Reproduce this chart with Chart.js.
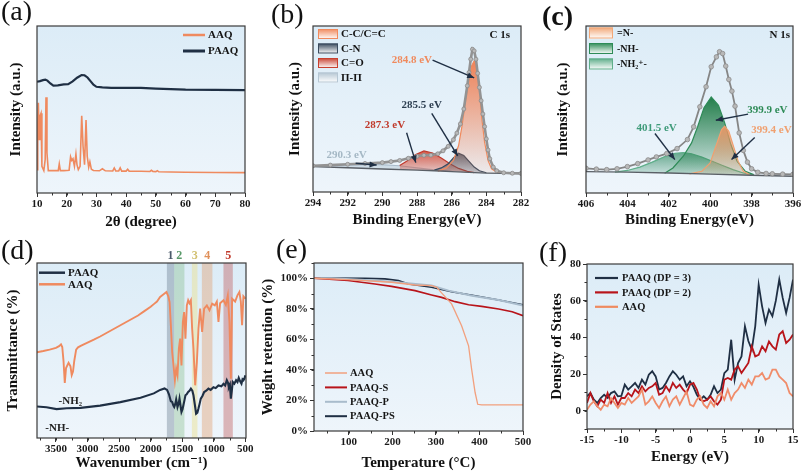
<!DOCTYPE html>
<html>
<head>
<meta charset="utf-8">
<title>AAQ / PAAQ characterisation</title>
<script src="https://cdn.jsdelivr.net/npm/chart.js@4.4.1/dist/chart.umd.min.js"></script>
<style>
  html, body { margin: 0; padding: 0; background: #fff; }
  #fig { position: relative; width: 803px; height: 472px; overflow: hidden; }
  #fig canvas { position: absolute; }
  .tag { position: absolute; font-family: 'Liberation Serif', serif; font-size: 28px; line-height: 28px; color: #111; }
</style>
</head>
<body>
<div id="fig">
  <canvas id="pa" width="265" height="236" style="left:0;top:0"></canvas>
  <canvas id="pb" width="270" height="236" style="left:265px;top:0"></canvas>
  <canvas id="pc" width="268" height="236" style="left:535px;top:0"></canvas>
  <canvas id="pd" width="265" height="236" style="left:0;top:236px"></canvas>
  <canvas id="pe" width="279" height="236" style="left:256px;top:236px"></canvas>
  <canvas id="pf" width="268" height="236" style="left:535px;top:236px"></canvas>
  <div class="tag" style="left:1px;top:-3px">(a)</div>
  <div class="tag" style="left:271px;top:0px">(b)</div>
  <div class="tag" style="left:542px;top:2px;font-weight:bold">(c)</div>
  <div class="tag" style="left:1px;top:236px">(d)</div>
  <div class="tag" style="left:276px;top:235px">(e)</div>
  <div class="tag" style="left:539px;top:238px">(f)</div>
</div>
<script>
// ================= DATA =================
// (a) XRD, 2theta (degree) vs intensity (a.u.)
const aTicks = [10, 20, 30, 40, 50, 60, 70, 80];
const aThetaPAAQ = [10, 11, 12, 12.8, 13.5, 14.5, 15.5, 17, 19, 20.5, 22, 23.5, 25, 26, 27, 28, 29, 30, 32, 35, 40, 45, 50, 55, 60, 70, 80];
const aPAAQ = [66.6, 67.0, 67.6, 67.9, 67.3, 65.6, 64.3, 64.5, 65.0, 65.2, 66.8, 69.0, 70.6, 70.5, 69.2, 67.0, 64.8, 63.6, 63.2, 63.0, 62.9, 62.9, 62.5, 62.2, 61.9, 61.7, 61.6];
const aThetaAAQ = [10, 10.25, 10.45, 10.75, 11.0, 11.35, 11.65, 12.3, 12.75, 13.03, 13.35, 13.8, 15, 17.15, 17.5, 17.85, 19, 20.8, 21.3, 21.7, 22.1, 22.6, 23.1, 23.45, 23.9, 24.5, 25.05, 25.5, 26.0, 26.5, 26.9, 27.4, 27.8, 28.3, 29, 31, 32, 33, 35.5, 36, 36.5, 37.5, 38, 38.5, 40, 40.5, 41, 45, 48, 48.5, 49, 50, 50.5, 51, 55, 60, 70, 80];
const aAAQ = [14, 40, 54, 32, 46, 47.7, 16, 13.4, 20, 57.3, 24, 13.4, 13.4, 13.4, 17.4, 13.4, 13.4, 13.6, 21.7, 19.5, 20.5, 16, 23.2, 17, 14, 16, 46.3, 28, 17, 43.7, 22, 15.5, 18.7, 14.2, 13.5, 13.3, 14.5, 13.3, 13.2, 15, 13.2, 13.2, 15, 13.1, 13.1, 14.2, 13.1, 13.0, 12.9, 13.6, 12.9, 12.8, 13.4, 12.7, 12.6, 12.4, 12.3, 12.2];

// (b) C 1s XPS, binding energy (eV)
const bTicks = [282, 284, 286, 288, 290, 292, 294];
const bEnvE = [294, 293, 292, 291, 290, 289.5, 289, 288.5, 288, 287.6, 287.2, 286.8, 286.5, 286.2, 285.9, 285.7, 285.5, 285.3, 285.1, 285.0, 284.9, 284.8, 284.7, 284.6, 284.5, 284.4, 284.3, 284.2, 284.1, 284.0, 283.9, 283.8, 283.6, 283.4, 283.0, 282.5, 282];
const bEnv = [15.8, 16.2, 16.7, 17.2, 17.7, 18.3, 19.0, 20.3, 21.5, 22.1, 22.2, 23.0, 24.8, 27.5, 31.5, 35.5, 41, 50, 64, 72, 80, 86, 85, 80, 71.5, 63, 55, 47, 39.4, 32, 25.3, 20, 15, 12.8, 11.6, 11.3, 11.2];
const bBaseE = [294, 292, 290, 288, 287, 286, 285, 284, 283, 282];
const bBase = [15.3, 14.6, 13.9, 13.2, 12.8, 12.3, 11.8, 11.4, 11.2, 11.1];
const bPiE = [294, 292, 290.3, 289, 288, 287, 286];
const bPi = [15.5, 16.2, 16.6, 15.8, 14.5, 13.3, 12.4];
const bCOE = [289.0, 288.6, 288.1, 287.6, 287.1, 286.6, 286.1, 285.6, 285.1, 284.7];
const bCO = [16.0, 18.5, 22.5, 24.7, 23.5, 20.5, 17, 14.2, 12.4, 11.7];
const bCNE = [287.0, 286.6, 286.2, 285.9, 285.6, 285.3, 285.0, 284.7, 284.4, 284.0];
const bCN = [13.2, 14.5, 17, 20.5, 23.3, 22, 18.5, 15, 12.8, 11.6];
const bCCE = [286.8, 286.3, 285.9, 285.6, 285.4, 285.2, 285.0, 284.85, 284.7, 284.55, 284.4, 284.27, 284.1, 283.9, 283.7, 283.4, 283.0];
const bCC = [12.5, 14.5, 19, 28, 40, 55, 68, 76, 79, 76, 62, 45, 30, 19, 14, 12, 11.3];

// (c) N 1s XPS
const cTicks = [396, 398, 400, 402, 404, 406];
const cEnvE = [406, 405.5, 405, 404.5, 404, 403.5, 403, 402.6, 402.1, 401.6, 401.1, 400.8, 400.5, 400.2, 399.95, 399.7, 399.55, 399.4, 399.25, 399.1, 398.95, 398.8, 398.6, 398.4, 398.2, 398, 397.7, 397.3, 397, 396.5, 396];
const cEnv = [14.8, 14.3, 14.0, 14.5, 15.8, 17.6, 19.8, 21.6, 23.6, 26.6, 32, 39.6, 51.6, 63.6, 75.6, 81.5, 84.6, 83.5, 76, 68, 61, 52, 36, 25.5, 18.5, 14.5, 12.4, 11.7, 11.5, 11.3, 11.2];
const cBaseE = [406, 404, 402, 400, 398, 396];
const cBase = [12.8, 12.5, 12, 11.3, 10.6, 10];
const cNH2E = [404.6, 404, 403.4, 402.8, 402.2, 401.7, 401.3, 400.9, 400.4, 399.9, 399.4, 398.9, 398.4, 397.9];
const cNH2 = [12.5, 13.5, 15.5, 18.5, 21.8, 23.7, 24.2, 23.5, 21.5, 19, 16.5, 14, 12, 10.8];
const cNHE = [402.2, 401.8, 401.3, 400.9, 400.6, 400.3, 399.95, 399.6, 399.3, 399.0, 398.7, 398.3, 397.9];
const cNH = [11.8, 15, 22, 30, 40, 51, 57.5, 52.5, 42, 29, 19, 13, 11];
const cNE = [401.0, 400.4, 400.0, 399.7, 399.45, 399.3, 399.1, 398.9, 398.65, 398.4, 398.1];
const cN = [11.5, 13, 18, 29, 38, 40, 37, 29, 19, 13, 11];

// (d) FTIR, wavenumber (cm-1)
const dTicks = [500, 1000, 1500, 2000, 2500, 3000, 3500];
const dWnPAAQ = [3800, 3650, 3490, 3330, 3110, 2800, 2480, 2160, 1950, 1850, 1780, 1740, 1710, 1680, 1660, 1640, 1627, 1610, 1596, 1575, 1555, 1543, 1525, 1512, 1495, 1480, 1465, 1449, 1430, 1406, 1385, 1363, 1340, 1322, 1300, 1280, 1260, 1243, 1225, 1206, 1180, 1153, 1120, 1085, 1050, 1005, 970, 926, 880, 847, 820, 794, 775, 762, 745, 730, 715, 700, 675, 647, 625, 605, 585, 562, 545, 531, 515, 500];
const dPAAQ = [18, 17.6, 16.5, 17, 17.2, 18.5, 20.5, 23, 25.5, 27.5, 28.3, 27.5, 25, 21, 20.6, 18.5, 17.7, 19.5, 22, 17.7, 20, 22.5, 18, 14.9, 16.5, 19, 21.5, 24.4, 25, 26.3, 27, 28.2, 27, 24.4, 19, 13.9, 14.5, 16.8, 19.5, 22.5, 24, 26.3, 27, 28.2, 27.5, 29, 28.5, 30, 29.5, 31, 30, 33, 31.5, 29, 30.5, 22.5, 27, 32, 31, 33, 32, 34.3, 32.5, 31, 33.5, 33, 34, 35.8];
const dWnAAQ = [3800, 3700, 3600, 3500, 3450, 3420, 3400, 3380, 3360, 3340, 3300, 3270, 3250, 3230, 3210, 3180, 3150, 3100, 3000, 2900, 2800, 2700, 2600, 2500, 2400, 2300, 2200, 2100, 2000, 1950, 1900, 1850, 1800, 1750, 1720, 1700, 1680, 1659, 1638, 1616, 1596, 1575, 1553, 1533, 1512, 1490, 1470, 1449, 1427, 1406, 1386, 1363, 1343, 1322, 1295, 1268, 1243, 1216, 1185, 1153, 1110, 1069, 1026, 984, 952, 926, 900, 847, 809, 778, 752, 730, 710, 662, 626, 595, 572, 552, 531, 500];
const dAAQ = [49, 49.7, 50.5, 51.5, 52.5, 53.5, 52, 44, 31.5, 40, 43, 41, 36, 38, 44, 50.5, 51.8, 52.8, 54.5, 56.2, 58, 60, 62, 64, 66, 68, 70, 72.5, 75, 76.5, 78, 80.6, 82, 83.4, 81, 77.7, 64.4, 49.1, 41.5, 33, 39.6, 35.8, 51.1, 56.8, 41.5, 66.3, 72, 56.8, 75.8, 78.7, 77, 78.7, 62.5, 51.1, 30.1, 43.4, 62.5, 73.9, 60.6, 73.9, 75.8, 73, 76.8, 75.8, 78, 66.3, 77, 78.7, 76, 81.5, 66.3, 33.9, 79.6, 78, 81.5, 83.4, 78, 64.4, 81, 79.6];
const dBands = [[1743, 1627], [1627, 1465], [1347, 1259], [1189, 1022], [847, 699]];
const dBandLabels = ['1', '2', '3', '4', '5'];

// (e) TGA, temperature (°C) vs weight retention (%)
const eTicksX = [100, 200, 300, 400, 500];
const eTicksY = [0, 20, 40, 60, 80, 100];
const eTAAQ = [20, 98, 198, 252, 290, 302, 313, 336, 359, 375, 382, 390, 396, 405, 500];
const eAAQ = [100, 99.1, 97.4, 95.6, 95.2, 94.1, 90.4, 83.2, 68.9, 55.8, 40.5, 25.2, 17.5, 17.1, 17.1];
const eTS = [20, 98, 160, 198, 252, 290, 313, 344, 375, 405, 444, 475, 500];
const eS = [100, 98.5, 96.3, 94.7, 91.9, 89.1, 87.5, 84.7, 82.7, 81.6, 79.9, 78.1, 75.5];
const eTP = [20, 60, 137, 198, 229, 290, 329, 383, 444, 500];
const eP = [100, 100, 98.9, 97.8, 96.9, 95.2, 91.9, 88.6, 85.8, 82.1];
const eTPS = [20, 137, 183, 214, 237, 290, 336, 390, 444, 500];
const ePS = [100.2, 100, 99.6, 98.5, 96.3, 94.1, 91.2, 88.6, 85.8, 82.7];

// (f) DOS, energy (eV)
const fTicksX = [-15, -10, -5, 0, 5, 10, 15];
const fTicksY = [0, 20, 40, 60, 80];
const fEnergy = [-15, -14.5, -14, -13.5, -13, -12.5, -12, -11.5, -11, -10.5, -10, -9.5, -9, -8.5, -8, -7.5, -7, -6.5, -6, -5.5, -5, -4.5, -4, -3.5, -3, -2.5, -2, -1.5, -1, -0.5, 0, 0.5, 1, 1.5, 2, 2.5, 3, 3.5, 4, 4.5, 5, 5.5, 6, 6.5, 7, 7.5, 8, 8.5, 9, 9.5, 10, 10.5, 11, 11.5, 12, 12.5, 13, 13.5, 14, 14.5, 15];
const fDP3 = [7.8, 9.6, 6, 4.2, 6.9, 8.7, 7, 9.6, 10.5, 7.8, 8, 14.2, 11.5, 13.3, 15.1, 12.4, 16.9, 14.2, 19.6, 21.5, 18.7, 11.5, 12.4, 15.1, 18.7, 21.5, 19.6, 16.9, 18.7, 13.3, 16, 13, 8.7, 6, 7.8, 6, 8.7, 13.3, 9.6, 11.5, 20.5, 22.4, 38.7, 16.9, 26, 29.6, 46, 38, 33.3, 46, 68.7, 56.9, 47.8, 55.1, 51.5, 60, 71.5, 61.5, 53.3, 61.5, 71.5];
const fDP2 = [4.2, 9.6, 5.1, 2.4, 6, 4.2, 9.6, 4.2, 7.8, 3.3, 6.9, 6.9, 9.6, 7.8, 11.5, 9.6, 13.3, 10.5, 12.4, 13.3, 15.1, 8.7, 9.6, 13.3, 10.5, 15.1, 12.4, 14.2, 11.5, 9.6, 14.2, 15.1, 11.5, 6, 5.1, 6, 7.8, 5.1, 3.3, 6, 16.9, 17.8, 16.9, 22.4, 24.2, 20.5, 23.3, 26, 35.1, 29.6, 30.5, 35.1, 32.4, 37.8, 35.1, 33.3, 41.5, 43.3, 36.9, 38.7, 41.5];
const fAAQ = [0.5, 3.3, 5.1, 2.4, 0.5, 3.3, 2.4, 6.9, 4.2, 1.5, 4.2, 3.3, 6.9, 4.2, 6, 7.8, 11.5, 3.3, 5.1, 7.8, 4.2, 1.5, 5.1, 7.8, 2.4, 6, 7.8, 3.3, 6.9, 10.5, 3.3, 2.4, 6, 7.8, 3.3, 1.5, 5.1, 2.4, 7.8, 9.6, 6, 11.5, 6, 9.6, 11.5, 15.1, 12.4, 16.9, 14.2, 18.7, 18.7, 20.5, 16.9, 17.8, 22.4, 22.4, 18.7, 16.9, 15.1, 9.6, 7.8];

// ================= HELPERS =================
const serif = "'Liberation Serif', 'DejaVu Serif', serif";
const tickFont = { family: serif, size: 11, weight: 'bold' };
const titleFont = { family: serif, size: 15, weight: 'bold' };
const navy = '#1f2f44', orange = '#ef8a5f', red = '#b8141a', grayBlue = '#a9bccc';

function pts(xs, ys) {
  const n = Math.min(xs.length, ys.length);
  const out = [];
  for (let i = 0; i < n; i++) out.push({ x: xs[i], y: ys[i] });
  return out;
}

function line(data, color, width, extra) {
  return Object.assign({ data, borderColor: color, borderWidth: width, pointRadius: 0, fill: false, tension: 0 }, extra || {});
}

// gradient from the top of a peak down to the baseline
function peakFill(rgb, a0) {
  return (ctx) => {
    const ch = ctx.chart, area = ch.chartArea;
    if (!area || !ch.scales.y) return 'rgba(0,0,0,0)';
    const ds = ch.data.datasets[ctx.datasetIndex];
    const top = ch.scales.y.getPixelForValue(Math.max(...ds.data.map(p => p.y)));
    const g = ch.ctx.createLinearGradient(0, top, 0, area.bottom - 12);
    g.addColorStop(0, `rgba(${rgb},${a0})`);
    g.addColorStop(1, `rgba(${rgb},0.03)`);
    return g;
  };
}

function xAxis(o) {
  return {
    type: 'linear', position: 'bottom', min: o.min, max: o.max, reverse: !!o.reverse,
    afterBuildTicks: s => { s.ticks = o.ticks.map(v => ({ value: v })); },
    afterFit: s => { s.height = o.h; },
    grid: { display: true, drawOnChartArea: false, drawTicks: true, tickLength: 4, color: '#333', lineWidth: 1 },
    border: { display: false },
    ticks: { color: '#1a1a1a', font: tickFont, padding: 1, maxRotation: 0, autoSkip: false, callback: o.fmt || (v => v) },
    title: { display: true, text: o.title, color: '#111', font: titleFont, padding: { top: 0, bottom: o.tb } }
  };
}

function yAxis(o) {
  const withTicks = !!o.ticks;
  return {
    type: 'linear', position: 'left', min: o.min, max: o.max,
    afterBuildTicks: s => { if (withTicks) s.ticks = o.ticks.map(v => ({ value: v })); },
    afterFit: s => { s.width = o.w; },
    grid: { display: withTicks, drawOnChartArea: false, drawTicks: true, tickLength: 4, color: '#333', lineWidth: 1 },
    border: { display: false },
    ticks: { display: withTicks, color: '#1a1a1a', font: tickFont, padding: 2, autoSkip: false, callback: o.fmt || (v => v) },
    title: { display: true, text: o.title, color: '#111', font: titleFont, padding: { top: o.tp, bottom: 0 } }
  };
}

function arrow(c, x1, y1, x2, y2) {
  c.beginPath(); c.moveTo(x1, y1); c.lineTo(x2, y2); c.stroke();
  const ang = Math.atan2(y2 - y1, x2 - x1), L = 7, W = 3;
  c.beginPath();
  c.moveTo(x2, y2);
  c.lineTo(x2 - L * Math.cos(ang) + W * Math.sin(ang), y2 - L * Math.sin(ang) - W * Math.cos(ang));
  c.lineTo(x2 - L * Math.cos(ang) - W * Math.sin(ang), y2 - L * Math.sin(ang) + W * Math.cos(ang));
  c.closePath(); c.fill();
}

// per-panel decorations (legends, labels, arrows, bands)
const extras = {};

const deco = {
  id: 'deco',
  beforeDraw(chart) {
    const a = chart.chartArea, c = chart.ctx;
    const g = c.createLinearGradient(0, a.top, 0, a.bottom);
    g.addColorStop(0, '#dcecf7');
    g.addColorStop(1, '#eef5fb');
    c.save(); c.fillStyle = g; c.fillRect(a.left, a.top, a.width, a.height); c.restore();
  },
  beforeDatasetsDraw(chart) {
    const ex = extras[chart.canvas.id];
    if (!ex || !ex.bands) return;
    const a = chart.chartArea, c = chart.ctx, xs = chart.scales.x;
    c.save();
    ex.bands.forEach((b, i) => {
      const x1 = xs.getPixelForValue(b[0]), x2 = xs.getPixelForValue(b[1]);
      c.fillStyle = ex.bandColors[i];
      c.fillRect(Math.min(x1, x2), a.top, Math.abs(x2 - x1), a.height);
      c.fillStyle = ex.bandText[i];
      c.font = `bold 12px ${serif}`;
      c.textAlign = 'center'; c.textBaseline = 'bottom';
      c.fillText(ex.bandLabels[i], (x1 + x2) / 2, a.top - 1);
    });
    c.restore();
  },
  afterDatasetsDraw(chart) {
    const a = chart.chartArea, c = chart.ctx;
    const ex = extras[chart.canvas.id] || {};
    c.save();
    // frame
    c.strokeStyle = '#3a3a3a'; c.lineWidth = 1.2;
    c.strokeRect(a.left, a.top, a.width, a.height);
    // minor ticks
    c.lineWidth = 1; c.strokeStyle = '#333';
    if (ex.minorX) {
      const s = chart.scales.x, lo = Math.min(s.min, s.max), hi = Math.max(s.min, s.max);
      for (let v = Math.ceil(lo / ex.minorX) * ex.minorX; v <= hi; v += ex.minorX) {
        const px = Math.round(s.getPixelForValue(v)) + 0.5;
        c.beginPath(); c.moveTo(px, a.bottom); c.lineTo(px, a.bottom + 2.5); c.stroke();
      }
    }
    if (ex.minorY) {
      const s = chart.scales.y;
      for (let v = Math.ceil(s.min / ex.minorY) * ex.minorY; v <= s.max; v += ex.minorY) {
        const py = Math.round(s.getPixelForValue(v)) + 0.5;
        c.beginPath(); c.moveTo(a.left, py); c.lineTo(a.left - 2.5, py); c.stroke();
      }
    }
    // legend
    const L = ex.legend;
    if (L) {
      c.font = `bold ${L.size}px ${serif}`;
      c.textBaseline = 'middle'; c.textAlign = 'left';
      L.items.forEach((it, i) => {
        const y = a.top + L.y + i * L.dy, x0 = a.left + L.x;
        if (L.box) {
          const g = c.createLinearGradient(0, y - L.h / 2, 0, y + L.h / 2);
          g.addColorStop(0, it.c); g.addColorStop(1, '#ffffff');
          c.fillStyle = g; c.fillRect(x0, y - L.h / 2, L.w, L.h);
          c.strokeStyle = it.c; c.lineWidth = 1;
          c.strokeRect(x0 + 0.5, y - L.h / 2 + 0.5, L.w - 1, L.h - 1);
        } else {
          c.strokeStyle = it.c; c.lineWidth = it.lw || L.lw;
          c.beginPath(); c.moveTo(x0, y); c.lineTo(x0 + L.w, y); c.stroke();
        }
        c.fillStyle = '#151515';
        c.fillText(it.t, a.left + L.tx, y + 0.5);
      });
    }
    // arrows (data coordinates)
    (ex.arrows || []).forEach(r => {
      c.strokeStyle = r.c || navy; c.fillStyle = r.c || navy; c.lineWidth = 1.4;
      arrow(c, chart.scales.x.getPixelForValue(r.x1), chart.scales.y.getPixelForValue(r.y1),
        chart.scales.x.getPixelForValue(r.x2), chart.scales.y.getPixelForValue(r.y2));
    });
    // text labels
    (ex.texts || []).forEach(t => {
      c.font = `bold ${t.size || 11}px ${serif}`;
      c.fillStyle = t.c || '#151515';
      c.textAlign = t.align || 'center'; c.textBaseline = 'middle';
      let x, y;
      if (t.area) { x = a.left + t.x; y = a.top + t.y; }
      else { x = chart.scales.x.getPixelForValue(t.x); y = chart.scales.y.getPixelForValue(t.y); }
      c.fillText(t.t, x, y);
    });
    c.restore();
  }
};

function panel(id, pad, datasets, x, y) {
  return new Chart(document.getElementById(id), {
    type: 'line',
    data: { datasets },
    options: {
      responsive: false, animation: false, devicePixelRatio: 1, events: [],
      layout: { padding: { top: pad.t, right: pad.r, left: 0, bottom: 0 } },
      plugins: { legend: { display: false }, tooltip: { enabled: false } },
      scales: { x, y }
    },
    plugins: [deco]
  });
}

// ================= (a) XRD =================
extras.pa = {
  minorX: 5,
  legend: { x: 146, y: 9, dy: 16, w: 22, tx: 171, size: 11, lw: 2.5,
    items: [{ t: 'AAQ', c: orange }, { t: 'PAAQ', c: navy, lw: 3 }] }
};
panel('pa', { t: 26, r: 20 }, [
  line(pts(aThetaAAQ, aAAQ), orange, 1.6),
  line(pts(aThetaPAAQ, aPAAQ), navy, 2.2)
], xAxis({ min: 10, max: 80, ticks: aTicks, h: 43, tb: 5, title: '2θ (degree)' }),
   yAxis({ min: 0, max: 100, w: 37, tp: 7, title: 'Intensity (a.u.)' }));

// ================= (b) C 1s =================
extras.pb = {
  minorX: 1,
  legend: { box: true, x: 5, y: 8, dy: 14.5, w: 20, h: 10, tx: 28, size: 11,
    items: [{ t: 'C-C/C=C', c: '#f08a5d' }, { t: 'C-N', c: '#3b4b5e' }, { t: 'C=O', c: '#c8402f' }, { t: 'Π-Π', c: '#b5c6d3' }] },
  texts: [
    { t: 'C 1s', x: 197, y: 9, area: true, align: 'right' },
    { t: '284.8 eV', x: 288.3, y: 79.5, c: '#f08a5d' },
    { t: '285.5 eV', x: 287.73, y: 52.4, c: '#2c3e50' },
    { t: '287.3 eV', x: 289.85, y: 40.4, c: '#c0392b' },
    { t: '290.3 eV', x: 292.06, y: 22.3, c: '#a5b8c5' }
  ],
  arrows: [
    { x1: 287.1, y1: 79.5, x2: 284.7, y2: 68.7 },
    { x1: 287.15, y1: 47.4, x2: 285.65, y2: 21.7 },
    { x1: 288.6, y1: 35.7, x2: 288.07, y2: 17.7 },
    { x1: 291.54, y1: 17.3, x2: 290.33, y2: 16.3 }
  ]
};
panel('pb', { t: 26, r: 14 }, [
  line(pts(bBaseE, bBase), '#5a5f66', 1.4, { order: 1 }),
  line(pts(bPiE, bPi), '#aabccb', 1.2, { order: 5, fill: 0, backgroundColor: peakFill('170,190,205', 0.5) }),
  line(pts(bCOE, bCO), '#c0392b', 1.2, { order: 4, fill: 0, backgroundColor: peakFill('210,75,55', 0.9) }),
  line(pts(bCNE, bCN), '#34495e', 1.2, { order: 3, fill: 0, backgroundColor: peakFill('60,75,95', 0.85) }),
  line(pts(bCCE, bCC), '#f08a5d', 1.2, { order: 2, fill: 0, backgroundColor: peakFill('240,125,80', 0.95) }),
  line(pts(bEnvE, bEnv), '#939393', 2.6, { order: 0, pointRadius: 2, pointBackgroundColor: '#b8b8b8', pointBorderColor: '#8a8a8a', pointBorderWidth: 0.8 })
], xAxis({ min: 282, max: 294, reverse: true, ticks: bTicks, h: 44, tb: 7, title: 'Binding Energy(eV)' }),
   yAxis({ min: 0, max: 100, w: 48, tp: 21, title: 'Intensity (a.u.)' }));

// ================= (c) N 1s =================
extras.pc = {
  minorX: 1,
  legend: { box: true, x: 3, y: 7, dy: 15.5, w: 24, h: 11, tx: 31, size: 10,
    items: [{ t: '=N-', c: '#f2a777' }, { t: '-NH-', c: '#2e8b57' }, { t: '-NH₂⁺-', c: '#5fae8a' }] },
  texts: [
    { t: 'N 1s', x: 204, y: 9, area: true, align: 'right' },
    { t: '399.9 eV', x: 397.24, y: 49.6, c: '#2e8b57' },
    { t: '399.4 eV', x: 397.04, y: 37.6, c: '#f0a070' },
    { t: '401.5 eV', x: 402.59, y: 39, c: '#3f9b7a' }
  ],
  arrows: [
    { x1: 398.17, y1: 47.2, x2: 399.73, y2: 43.6 },
    { x1: 397.85, y1: 33.2, x2: 398.97, y2: 20 },
    { x1: 402.67, y1: 35.6, x2: 401.71, y2: 20 }
  ]
};
panel('pc', { t: 26, r: 10 }, [
  line(pts(cBaseE, cBase), '#5a5f66', 1.4, { order: 1 }),
  line(pts(cNH2E, cNH2), '#5fae8a', 1.2, { order: 4, fill: 0, backgroundColor: peakFill('70,150,115', 0.8) }),
  line(pts(cNHE, cNH), '#2e8b57', 1.2, { order: 3, fill: 0, backgroundColor: peakFill('25,120,65', 0.95) }),
  line(pts(cNE, cN), '#f0a070', 1.2, { order: 2, fill: 0, backgroundColor: peakFill('240,150,100', 0.9) }),
  line(pts(cEnvE, cEnv), '#858585', 1.8, { order: 0, pointRadius: 2.3, pointBackgroundColor: '#b8b8b8', pointBorderColor: '#8a8a8a', pointBorderWidth: 0.8 })
], xAxis({ min: 396, max: 406, reverse: true, ticks: cTicks, h: 43, tb: 7, title: 'Binding Energy(eV)' }),
   yAxis({ min: 0, max: 100, w: 51, tp: 19, title: 'Intensity (a.u.)' }));

// ================= (d) FTIR =================
extras.pd = {
  minorX: 250,
  bands: dBands,
  bandLabels: dBandLabels,
  bandColors: ['rgba(90,110,130,0.35)', 'rgba(110,175,110,0.30)', 'rgba(235,225,140,0.45)', 'rgba(225,155,105,0.40)', 'rgba(190,85,85,0.40)'],
  bandText: ['#4a5a6a', '#5a9a6a', '#d2c070', '#e0905a', '#c0392b'],
  legend: { x: 2, y: 9.7, dy: 11.6, w: 26, tx: 31, size: 11, lw: 2.5,
    items: [{ t: 'PAAQ', c: navy }, { t: 'AAQ', c: orange }] },
  texts: [
    { t: '-NH₂', x: 3273, y: 21, c: '#222' },
    { t: '-NH-', x: 3479, y: 5.7, c: '#222' }
  ]
};
panel('pd', { t: 27, r: 19 }, [
  line(pts(dWnAAQ, dAAQ), orange, 1.9),
  line(pts(dWnPAAQ, dPAAQ), navy, 2.1)
], xAxis({ min: 490, max: 3800, reverse: true, ticks: dTicks, h: 34, tb: 0, title: 'Wavenumber (cm⁻¹)' }),
   yAxis({ min: 0, max: 100, w: 37, tp: 4, title: 'Transmittance (%)' }));

// ================= (e) TGA =================
extras.pe = {
  minorX: 50, minorY: 10,
  legend: { x: 11, y: 110, dy: 14.4, w: 22, tx: 36, size: 10.5, lw: 2,
    items: [{ t: 'AAQ', c: '#f2a07e', lw: 1.5 }, { t: 'PAAQ-S', c: red }, { t: 'PAAQ-P', c: grayBlue }, { t: 'PAAQ-PS', c: navy }] }
};
panel('pe', { t: 27, r: 12 }, [
  line(pts(eTAAQ, eAAQ), '#f2a07e', 1.3),
  line(pts(eTS, eS), red, 1.6),
  line(pts(eTP, eP), grayBlue, 2),
  line(pts(eTPS, ePS), navy, 1.6)
], xAxis({ min: 20, max: 500, ticks: eTicksX, h: 41, tb: 0, title: 'Temperature (°C)' }),
   yAxis({ min: 0, max: 110, ticks: eTicksY, w: 58, tp: 3, title: 'Weight retention (%)', fmt: v => v + '%' }));

// ================= (f) DOS =================
extras.pf = {
  minorX: 2.5, minorY: 10,
  legend: { x: 8, y: 14, dy: 14.4, w: 23, tx: 35, size: 10.5, lw: 2.2,
    items: [{ t: 'PAAQ (DP = 3)', c: navy }, { t: 'PAAQ (DP = 2)', c: red }, { t: 'AAQ', c: orange }] }
};
panel('pf', { t: 28, r: 10 }, [
  line(pts(fEnergy, fAAQ), '#f08c6a', 1.8),
  line(pts(fEnergy, fDP2), red, 1.8),
  line(pts(fEnergy, fDP3), navy, 1.8)
], xAxis({ min: -15, max: 15, ticks: fTicksX, h: 43, tb: 6, title: 'Energy (eV)' }),
   yAxis({ min: -10, max: 80, ticks: fTicksY, w: 52, tp: 13, title: 'Density of States' }));
</script>
</body>
</html>
